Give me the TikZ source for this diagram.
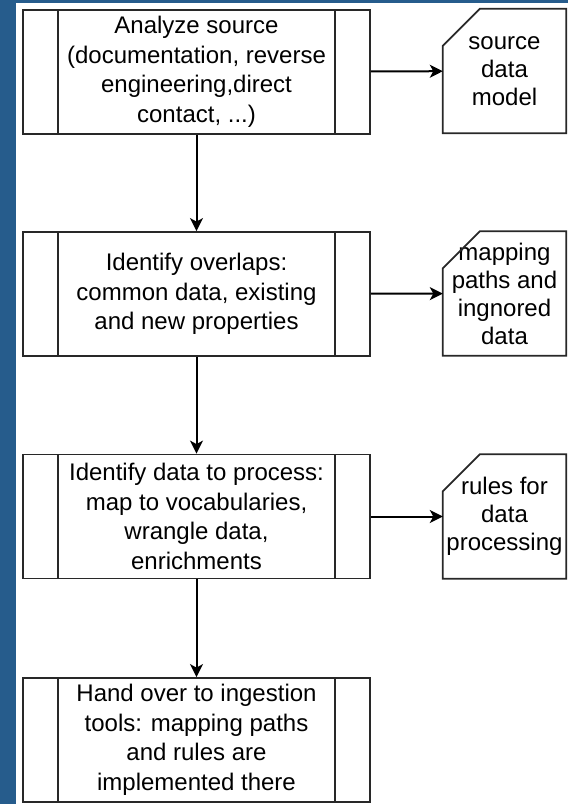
\documentclass[tikz,border=0pt]{standalone}
\usepackage{fontspec}
\setmainfont{Liberation Sans}
\usepackage{xcolor}
\usetikzlibrary{arrows.meta}
\definecolor{sidebar}{RGB}{38,92,140}
\definecolor{inkline}{RGB}{40,40,40}

\begin{document}
\begin{tikzpicture}[x=1pt,y=-1pt,
            procbox/.style={draw=inkline,line width=1.8pt,minimum width=347pt,minimum height=124pt,inner sep=0pt,align=center,
              font=\fontsize{24}{29.5}\selectfont,
              path picture={\draw[inkline,line width=1.8pt]
                ([xshift=35pt]path picture bounding box.north west) -- ([xshift=35pt]path picture bounding box.south west)
                ([xshift=-35pt]path picture bounding box.north east) -- ([xshift=-35pt]path picture bounding box.south east);}},
            docbox/.style={minimum width=123pt,minimum height=124pt,inner sep=0pt,align=center,
              font=\fontsize{24}{28}\selectfont},
            docline/.style={draw=inkline,line width=1.8pt,line join=miter},
            flow/.style={-{Stealth[length=13pt,width=13pt,inset=3.5pt]},line width=2pt,draw=black}]

            \useasboundingbox (0,0) rectangle (568,804);
            \fill[sidebar] (0,0) rectangle (16,804);
            \fill[sidebar] (0,0) rectangle (568,3);

            \node[procbox] (p1) at (196.5,72) {Analyze source\\(documentation, reverse\\engineering,direct\\contact, ...)};
            \node[procbox] (p2) at (196.5,294) {Identify overlaps:\\common data, existing\\and new properties};
            \node[procbox] (p3) at (196.5,516.5) {Identify data to process:\\map to vocabularies,\\wrangle data,\\enrichments};
            \node[procbox] (p4) at (196.5,740) {Hand over to ingestion\\tools: mapping paths\\and rules are\\implemented there};

            \node[docbox] (d1) at (504.5,71) {source\\data\\model};
            \node[docbox] (d2) at (504.5,293.5) {mapping\\paths and\\ingnored\\data};
            \node[docbox] (d3) at (504.5,516.5) {rules for\\data\\processing};

            \foreach \d in {d1,d2,d3}
              \draw[docline] ([xshift=37pt]\d.north west) -- (\d.north east) -- (\d.south east)
                -- (\d.south west) -- ([yshift=-37pt]\d.north west) -- cycle;

            \path [flow] (p1) edge (p2);
            \path [flow] (p2) edge (p3);
            \path [flow] (p3) edge (p4);

            \path [flow] (p1) edge (d1);
            \path [flow] (p2) edge (d2);
            \path [flow] (p3) edge (d3);
        \end{tikzpicture}
\end{document}
